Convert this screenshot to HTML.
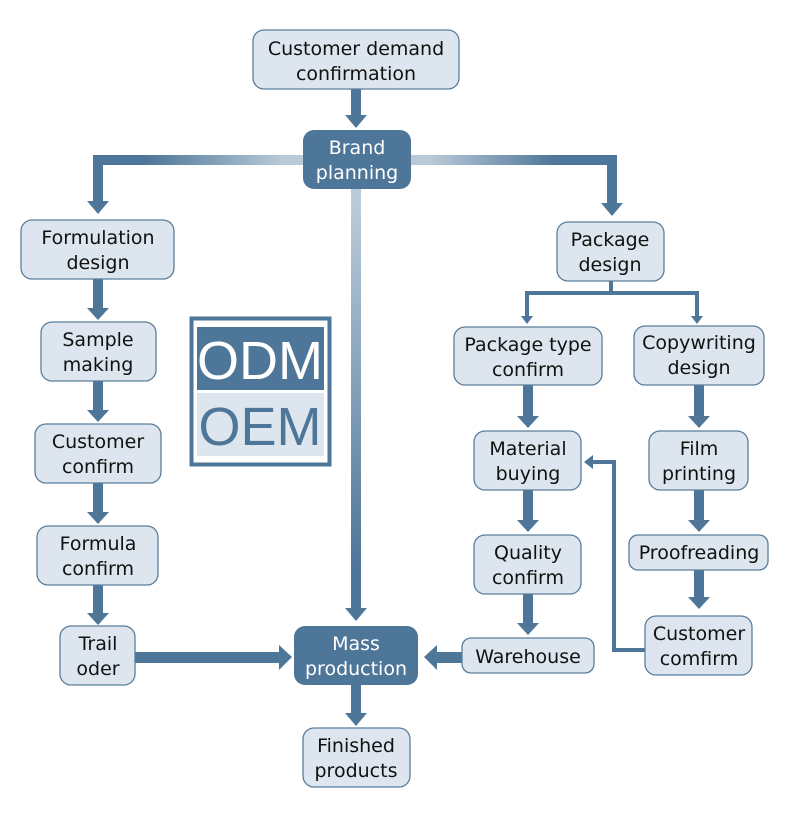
<!DOCTYPE html>
<html><head><meta charset="utf-8"><style>
html,body{margin:0;padding:0;background:#fff;}
svg{display:block;}
text{font-family:"DejaVu Sans","Liberation Sans",sans-serif;font-size:19px;text-anchor:middle;fill:#111;}
.w{fill:#fff;}
</style></head><body>
<svg width="790" height="818" viewBox="0 0 790 818" xmlns="http://www.w3.org/2000/svg">
<defs>
<linearGradient id="gl" x1="0" x2="1" y1="0" y2="0"><stop offset="0.25" stop-color="#4e7699"/><stop offset="0.9" stop-color="#b9cad8"/></linearGradient>
<linearGradient id="gr" x1="0" x2="1" y1="0" y2="0"><stop offset="0.1" stop-color="#b9cad8"/><stop offset="0.7" stop-color="#4e7699"/></linearGradient>
<linearGradient id="gv" x1="0" x2="0" y1="0" y2="1"><stop offset="0.05" stop-color="#b9cad8"/><stop offset="0.9" stop-color="#4e7699"/></linearGradient>
</defs>
<g fill="#4e7699">
<!-- customer -> brand -->
<rect x="351" y="89" width="10" height="28"/><polygon points="345,115 367,115 356,128"/>
<!-- brand left -->
<rect x="93" y="155" width="212" height="10" fill="url(#gl)"/>
<rect x="93" y="155" width="10" height="48"/><polygon points="87,201 109,201 98,214"/>
<!-- brand right -->
<rect x="409" y="155" width="208" height="10" fill="url(#gr)"/>
<rect x="607" y="155" width="10" height="50"/><polygon points="601,203 623,203 612,216"/>
<!-- brand down -->
<rect x="351" y="189" width="10" height="420" fill="url(#gv)"/><polygon points="345,608 367,608 356,621"/>
<!-- left column -->
<rect x="93" y="279" width="10" height="30"/><polygon points="87,308 109,308 98,320"/>
<rect x="93" y="381" width="10" height="30"/><polygon points="87,410 109,410 98,422"/>
<rect x="93" y="483" width="10" height="30"/><polygon points="87,512 109,512 98,524"/>
<rect x="93" y="585" width="10" height="30"/><polygon points="87,613 109,613 98,625"/>
<!-- trail -> mass -->
<rect x="135" y="652" width="146" height="11"/><polygon points="279,645 279,670 292,657"/>
<!-- warehouse -> mass -->
<rect x="436" y="652" width="26" height="11"/><polygon points="437,645 437,670 424,657"/>
<!-- mass -> finished -->
<rect x="351" y="685" width="10" height="30"/><polygon points="345,713 367,713 356,726"/>
<!-- package design splits -->
<rect x="609" y="280" width="4" height="14"/>
<rect x="525" y="291" width="174" height="4"/>
<rect x="525" y="291" width="4" height="26"/><polygon points="521,316 533,316 527,324"/>
<rect x="695" y="291" width="4" height="26"/><polygon points="691,316 703,316 697,324"/>
<!-- right columns -->
<rect x="523" y="385" width="10" height="32"/><polygon points="517,416 539,416 528,428"/>
<rect x="523" y="490" width="10" height="32"/><polygon points="517,520 539,520 528,532"/>
<rect x="523" y="594" width="10" height="30"/><polygon points="517,623 539,623 528,635"/>
<rect x="694" y="385" width="10" height="32"/><polygon points="688,416 710,416 699,428"/>
<rect x="694" y="490" width="10" height="32"/><polygon points="688,520 710,520 699,532"/>
<rect x="694" y="570" width="10" height="28"/><polygon points="688,597 710,597 699,609"/>
<!-- feedback -->
<rect x="612" y="648" width="34" height="4"/>
<rect x="612" y="460" width="4" height="192"/>
<rect x="592" y="460" width="24" height="4"/><polygon points="593,455 593,469 584,462"/>
</g>
<g stroke="#5a7d9c" stroke-width="1.3" fill="#dde6ee">
<rect x="253" y="30" width="206" height="59" rx="11"/>
<rect x="21" y="220" width="153" height="59" rx="11"/>
<rect x="41" y="322" width="115" height="59" rx="11"/>
<rect x="35" y="424" width="126" height="59" rx="11"/>
<rect x="37" y="526" width="121" height="59" rx="11"/>
<rect x="60" y="626" width="75" height="59" rx="11"/>
<rect x="303" y="728" width="107" height="59" rx="11"/>
<rect x="557" y="222" width="107" height="59" rx="11"/>
<rect x="454" y="327" width="148" height="58" rx="11"/>
<rect x="634" y="326" width="130" height="59" rx="11"/>
<rect x="474" y="431" width="107" height="59" rx="11"/>
<rect x="649" y="431" width="99" height="59" rx="11"/>
<rect x="474" y="535" width="107" height="59" rx="11"/>
<rect x="629" y="535" width="139" height="35" rx="9"/>
<rect x="462" y="638" width="132" height="35" rx="9"/>
<rect x="645" y="616" width="107" height="59" rx="11"/>
</g>
<g fill="#4e7699">
<rect x="303" y="130" width="108" height="59" rx="11"/>
<rect x="294" y="626" width="124" height="59" rx="11"/>
</g>
<text x="356" y="55">Customer demand</text><text x="356" y="80">confirmation</text>
<text class="w" x="357" y="154">Brand</text><text class="w" x="357" y="179">planning</text>
<text x="98" y="244">Formulation</text><text x="98" y="269">design</text>
<text x="98" y="346">Sample</text><text x="98" y="371">making</text>
<text x="98" y="448">Customer</text><text x="98" y="473">confirm</text>
<text x="98" y="550">Formula</text><text x="98" y="575">confirm</text>
<text x="98" y="650">Trail</text><text x="98" y="675">oder</text>
<text class="w" x="356" y="650">Mass</text><text class="w" x="356" y="675">production</text>
<text x="356" y="752">Finished</text><text x="356" y="777">products</text>
<text x="610" y="246">Package</text><text x="610" y="271">design</text>
<text x="528" y="351">Package type</text><text x="528" y="376">confirm</text>
<text x="699" y="349">Copywriting</text><text x="699" y="374">design</text>
<text x="528" y="455">Material</text><text x="528" y="480">buying</text>
<text x="699" y="455">Film</text><text x="699" y="480">printing</text>
<text x="528" y="559">Quality</text><text x="528" y="584">confirm</text>
<text x="699" y="559">Proofreading</text>
<text x="528" y="663">Warehouse</text>
<text x="699" y="640">Customer</text><text x="699" y="665">comfirm</text>
<!-- ODM/OEM -->
<rect x="191.5" y="318.5" width="138" height="146" fill="none" stroke="#4e7699" stroke-width="4"/>
<rect x="197" y="327" width="127" height="63" fill="#4e7699"/>
<rect x="197" y="393" width="127" height="63" fill="#dde6ee"/>
<text x="260" y="379" style="font-size:54px;fill:#fff;font-family:'Liberation Sans',sans-serif">ODM</text>
<text x="260" y="445" style="font-size:54px;fill:#4e7699;font-family:'Liberation Sans',sans-serif">OEM</text>
</svg>
</body></html>
